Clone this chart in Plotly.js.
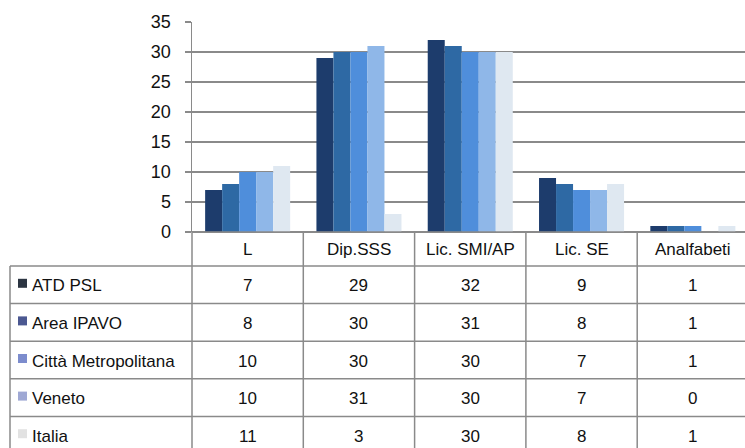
<!DOCTYPE html>
<html><head><meta charset="utf-8">
<script src="https://cdn.plot.ly/plotly-3.0.1.min.js"></script>
<style>body{margin:0;background:#fff}</style></head>
<body><div id="chart" style="width:745px;height:448px"></div>
<script>
const categories = ['L', 'Dip.SSS', 'Lic. SMI/AP', 'Lic. SE', 'Analfabeti'];
const seriesNames = ['ATD PSL', 'Area IPAVO', 'Città Metropolitana', 'Veneto', 'Italia'];
const atdPsl = [7, 29, 32, 9, 1];
const areaIpavo = [8, 30, 31, 8, 1];
const cittaMetropolitana = [10, 30, 30, 7, 1];
const veneto = [10, 31, 30, 7, 0];
const italia = [11, 3, 30, 8, 1];
const yTicks = [0, 5, 10, 15, 20, 25, 30, 35];

const seriesValues = [atdPsl, areaIpavo, cittaMetropolitana, veneto, italia];
const barColors = ['#1d3c6c', '#2e69a4', '#4f8edb', '#8fb7e8', '#dfe8f1'];
const swatchColors = ['#2c3542', '#4b5891', '#7c8ccd', '#9fa8d4', '#e2e2e2'];
const FONT = 'Liberation Sans Narrow, Arial Narrow, Liberation Sans, Arial, sans-serif';
const GRID = '#8a8a8a';

const W = 745, H = 448, ML = 192, MR = 0, MT = 22, MB = 216;
const plotW = W - ML - MR, plotH = H - MT - MB;
const catPx = 111.3;
const xRange = [-0.5, -0.5 + plotW / catPx];
const dataToPaperX = x => (x - xRange[0]) / (xRange[1] - xRange[0]);
const pxToPaperX = px => (px - ML) / plotW;
const pxToPaperY = py => (H - MB - py) / plotH;

const traces = seriesNames.map((name, i) => ({
  type: 'bar', name: name, x: categories, y: seriesValues[i],
  marker: {color: barColors[i], line: {width: 0}}, hoverinfo: 'skip'
}));

// table geometry (pixels)
const tableLeft = 10, headTop = 232, headBottom = 266, rowH = 37.6;
const rowTop = r => headBottom + r * rowH;
const shapes = [];
const line = (x0, y0, x1, y1) => shapes.push({type: 'line', xref: 'paper', yref: 'paper',
  x0: x0, y0: y0, x1: x1, y1: y1, line: {color: GRID, width: 1.5}});
const rightEdge = dataToPaperX(categories.length - 0.5);
// horizontal lines
line(0, pxToPaperY(headTop), rightEdge, pxToPaperY(headTop));
for (let r = 0; r <= seriesNames.length; r++) {
  line(pxToPaperX(tableLeft), pxToPaperY(rowTop(r)), rightEdge, pxToPaperY(rowTop(r)));
}
// vertical lines
line(pxToPaperX(tableLeft), pxToPaperY(headBottom), pxToPaperX(tableLeft), pxToPaperY(rowTop(seriesNames.length)));
for (let c = 0; c <= categories.length; c++) {
  const xp = dataToPaperX(c - 0.5);
  line(xp, pxToPaperY(headTop), xp, pxToPaperY(rowTop(seriesNames.length)));
}
// swatches
seriesNames.forEach((n, r) => {
  const cy = rowTop(r) + rowH / 2 - 1;
  shapes.push({type: 'rect', xref: 'paper', yref: 'paper',
    x0: pxToPaperX(18), x1: pxToPaperX(27), y0: pxToPaperY(cy - 5), y1: pxToPaperY(cy + 4),
    fillcolor: swatchColors[r], line: {width: 0}});
});

const annotations = [];
const tfont = {family: FONT, size: 17, color: '#111'};
categories.forEach((c, i) => {
  annotations.push({xref: 'x', yref: 'paper', x: c, y: pxToPaperY((headTop + headBottom) / 2 + 1),
    text: c, showarrow: false, xanchor: 'center', yanchor: 'middle', font: tfont});
});
seriesNames.forEach((n, r) => {
  const cy = rowTop(r) + rowH / 2 + 1;
  annotations.push({xref: 'paper', yref: 'paper', x: pxToPaperX(30), y: pxToPaperY(cy),
    text: n, showarrow: false, xanchor: 'left', yanchor: 'middle', font: tfont});
  categories.forEach((c, i) => {
    annotations.push({xref: 'x', yref: 'paper', x: c, y: pxToPaperY(cy),
      text: String(seriesValues[r][i]), showarrow: false, xanchor: 'center', yanchor: 'middle', font: tfont});
  });
});

const layout = {
  width: W, height: H,
  margin: {l: ML, r: MR, t: MT, b: MB, pad: 0},
  paper_bgcolor: '#fff', plot_bgcolor: '#fff',
  showlegend: false,
  barmode: 'group', bargap: 0.236, bargroupgap: 0,
  xaxis: {type: 'category', range: xRange, showticklabels: false, showgrid: false,
    zeroline: false, showline: false, ticks: '', fixedrange: true},
  yaxis: {range: [0, 35], tickvals: yTicks, ticktext: yTicks.map(String),
    showgrid: true, gridcolor: GRID, gridwidth: 1.5, zeroline: true, zerolinecolor: GRID, zerolinewidth: 1.5,
    showline: true, linecolor: GRID, linewidth: 1.5, ticks: 'outside', ticklen: 6, tickcolor: GRID, tickwidth: 1.5,
    ticklabelstandoff: 10,
    tickfont: {family: FONT, size: 18, color: '#111'}, fixedrange: true},
  shapes: shapes, annotations: annotations
};
Plotly.newPlot('chart', traces, layout, {staticPlot: true, displayModeBar: false});
</script></body></html>
